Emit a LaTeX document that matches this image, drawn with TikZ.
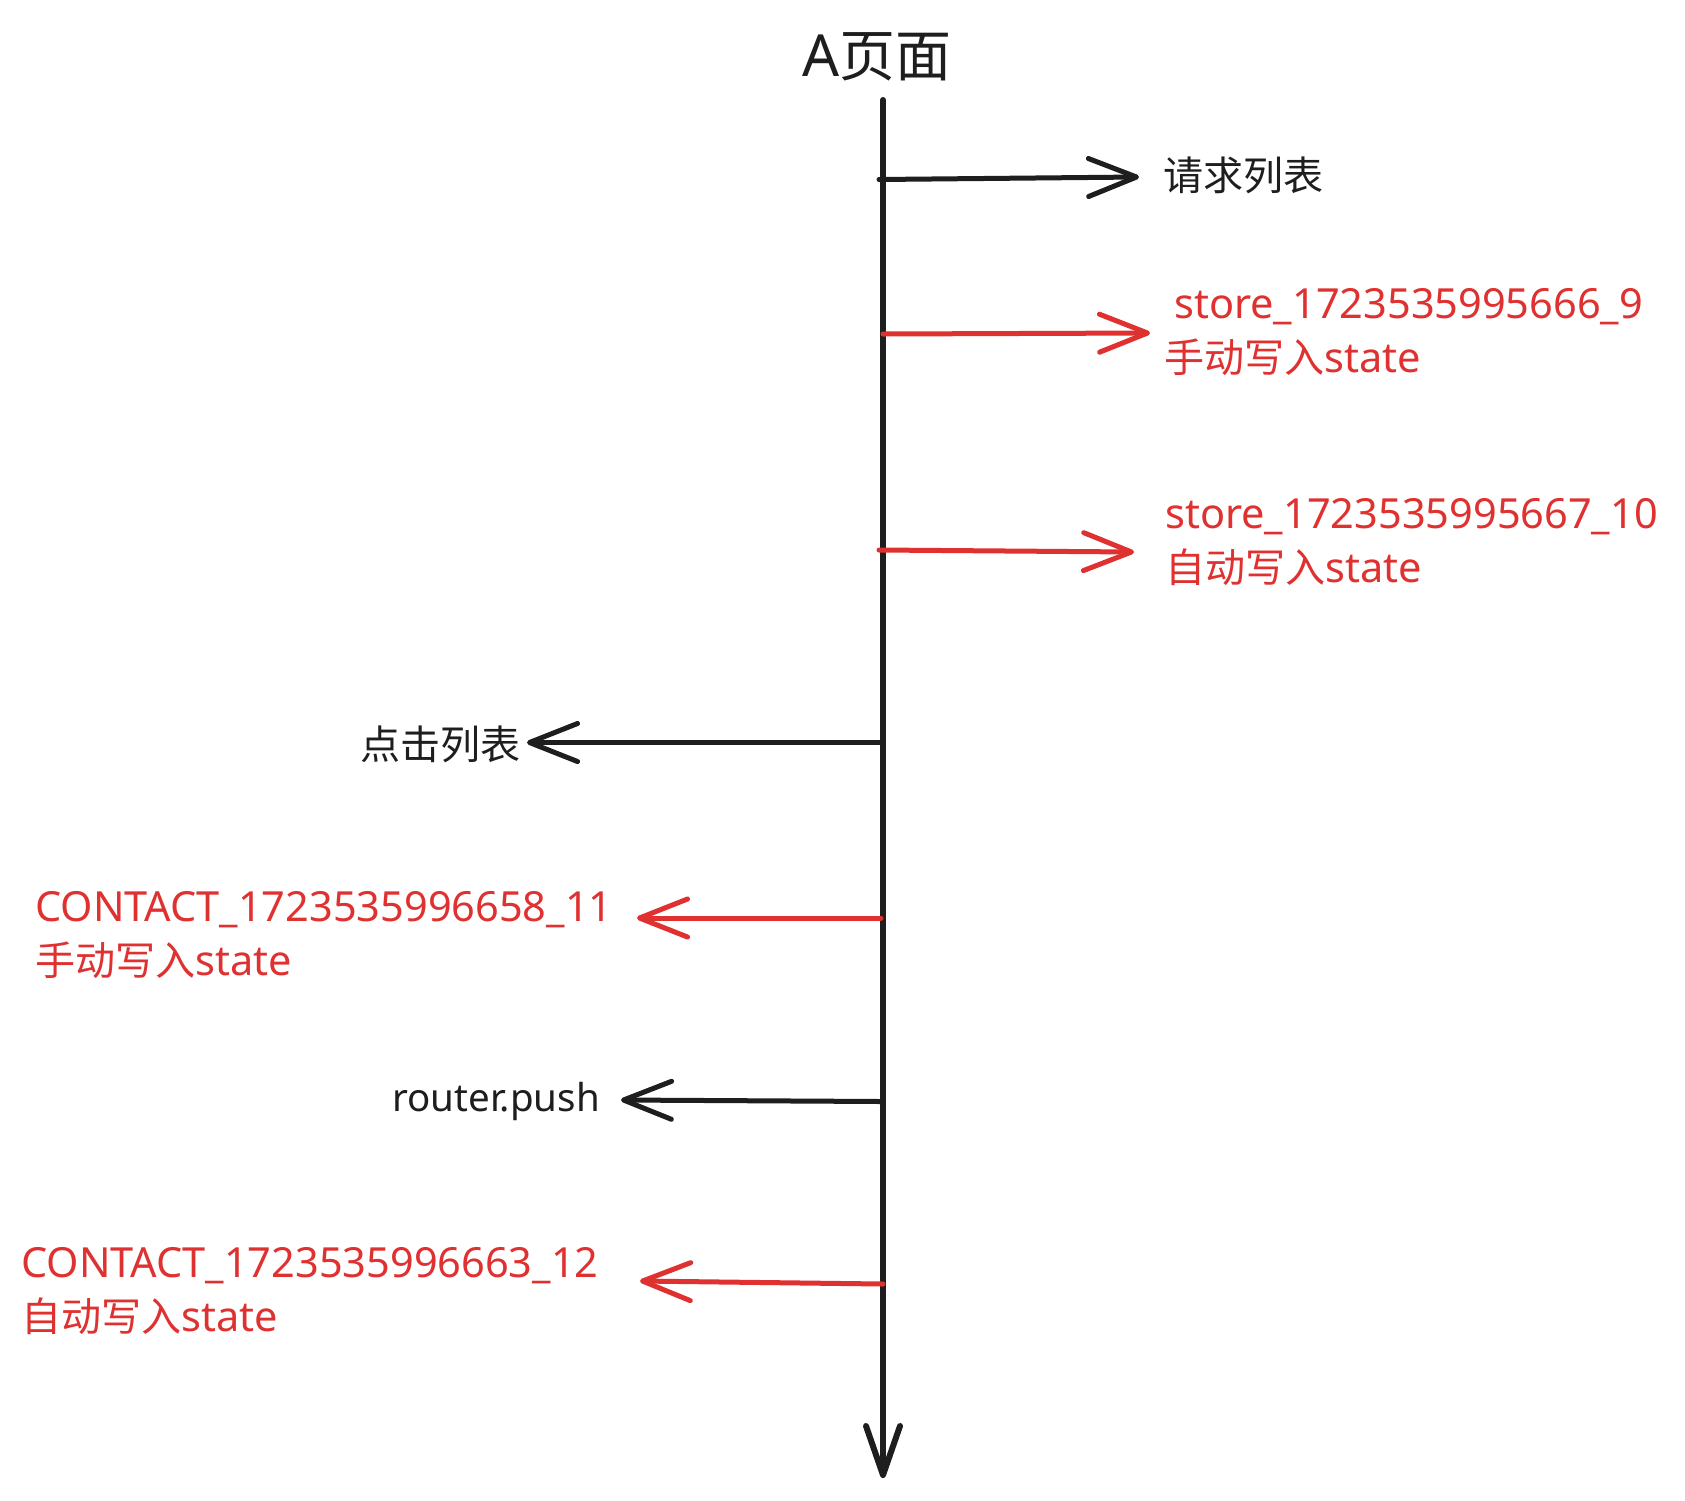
\documentclass[tikz,border=0pt]{standalone}
\usepackage{fontspec}
\setmainfont{Noto Sans}
\newfontfamily\cjk[Scale=0.965]{Noto Sans CJK SC}
\usetikzlibrary{arrows.meta}
\definecolor{ink}{HTML}{1E1E1E}
\definecolor{redink}{HTML}{E03131}
\begin{document}
\begin{tikzpicture}[x=1pt,y=-1pt,
  lbl/.style={inner sep=0pt, font=\fontsize{41.5}{54}\selectfont, align=left},
  conn/.style={line width=5pt, line cap=round, line join=round,
    -{Straight Barb[length=48pt,width=38pt,round]}},
  blackconn/.style={conn, draw=ink},
  redconn/.style={conn, draw=redink}
]
\useasboundingbox[fill=white] (0,0) rectangle (1685,1500);

% title and time line
\node[inner sep=0pt, font=\fontsize{58}{60}\selectfont, text=ink] (title) at (877,57) {A{\cjk 页面}};
\coordinate (top) at (883,100);
\coordinate (bot) at (883,1478);
\draw[line width=6pt, draw=ink, line cap=round, line join=round,
  -{Straight Barb[length=49pt,width=34pt,round]}] (top) -- (bot);

% labels
\node[lbl, text=ink, anchor=west] (l1) at (1163,175) {{\cjk 请求列表}};
\node[lbl, text=redink, anchor=west] (l2) at (1164,332) {\hspace*{10pt}store\_1723535995666\_9\\{\cjk 手动写入}state};
\node[lbl, text=redink, anchor=west] (l3) at (1165,542) {store\_1723535995667\_10\\{\cjk 自动写入}state};
\node[lbl, text=ink, anchor=east] (l4) at (521,744) {{\cjk 点击列表}};
\node[lbl, text=redink, anchor=west] (l5) at (35,935) {CONTACT\_1723535996658\_11\\{\cjk 手动写入}state};
\node[lbl, text=ink, anchor=east, font=\fontsize{38.5}{54}\selectfont] (l6) at (600,1101) {router.push};
\node[lbl, text=redink, anchor=west] (l7) at (21,1291) {CONTACT\_1723535996663\_12\\{\cjk 自动写入}state};

% arrow ends
\coordinate (s1) at (879,179.5);  \coordinate (t1) at (1139,177);
\coordinate (s2) at (883,334);    \coordinate (t2) at (1150,333);
\coordinate (s3) at (879,550);    \coordinate (t3) at (1134,552);
\coordinate (s4) at (883,742.5);  \coordinate (t4) at (527,742.5);
\coordinate (s5) at (881,918);    \coordinate (t5) at (637,918);
\coordinate (s6) at (881,1101.5); \coordinate (t6) at (621,1100);
\coordinate (s7) at (883,1284);   \coordinate (t7) at (640,1281);

\draw[blackconn] (s1) -- (t1);
\draw[redconn] (s2) -- (t2);
\draw[redconn] (s3) -- (t3);
\draw[blackconn] (s4) -- (t4);
\draw[redconn] (s5) -- (t5);
\draw[blackconn] (s6) -- (t6);
\draw[redconn] (s7) -- (t7);
\end{tikzpicture}
\end{document}
